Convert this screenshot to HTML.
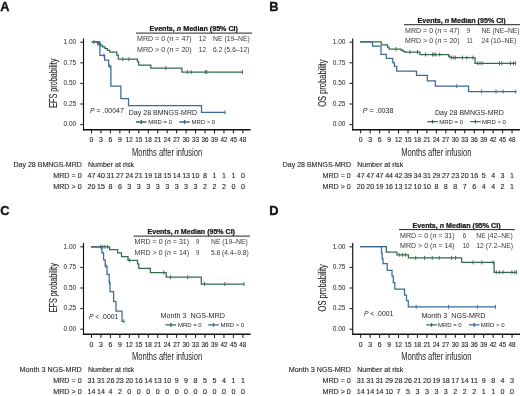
<!DOCTYPE html>
<html><head><meta charset="utf-8"><title>Kaplan-Meier curves</title>
<style>
html,body{margin:0;padding:0;background:#fff;}
body{width:520px;height:396px;overflow:hidden;font-family:"Liberation Sans", sans-serif;}
svg{display:block;will-change:transform;}
</style></head><body>
<svg width="520" height="396" viewBox="0 0 520 396" font-family='"Liberation Sans", sans-serif' fill="#262626">
<style>.s{stroke:#262626;stroke-width:0.15px;paint-order:stroke}.t{stroke:#262626;stroke-width:0.3px;paint-order:stroke}.u{stroke:#262626;stroke-width:0.12px;paint-order:stroke}.h{stroke:#111;stroke-width:0.2px;paint-order:stroke}</style>
<text x="0.2" y="10.5" font-size="12.8" font-weight="bold" fill="#111" stroke="#111" stroke-width="0.35">A</text>
<path d="M83.5 38.4V130.4" fill="none" stroke="#111" stroke-width="1.15"/>
<path d="M82.95 129.7H250.6" fill="none" stroke="#111" stroke-width="1.45"/>
<path d="M80.3 42.2H83.5M80.3 62.8H83.5M80.3 83.4H83.5M80.3 104H83.5M80.3 124.6H83.5M91.5 129.5V133.3M100.96 129.5V133.3M110.42 129.5V133.3M119.88 129.5V133.3M129.34 129.5V133.3M138.8 129.5V133.3M148.26 129.5V133.3M157.72 129.5V133.3M167.18 129.5V133.3M176.64 129.5V133.3M186.1 129.5V133.3M195.56 129.5V133.3M205.02 129.5V133.3M214.48 129.5V133.3M223.94 129.5V133.3M233.4 129.5V133.3M242.86 129.5V133.3" stroke="#111" stroke-width="1"/>
<text x="76.2" y="44" font-size="7.4" text-anchor="end" textLength="12.7" lengthAdjust="spacingAndGlyphs">1.00</text>
<text x="76.2" y="64.6" font-size="7.4" text-anchor="end" textLength="12.7" lengthAdjust="spacingAndGlyphs">0.75</text>
<text x="76.2" y="85.2" font-size="7.4" text-anchor="end" textLength="12.7" lengthAdjust="spacingAndGlyphs">0.50</text>
<text x="76.2" y="105.8" font-size="7.4" text-anchor="end" textLength="12.7" lengthAdjust="spacingAndGlyphs">0.25</text>
<text x="76.2" y="126.4" font-size="7.4" text-anchor="end" textLength="12.7" lengthAdjust="spacingAndGlyphs">0.00</text>
<text x="91.5" y="142.2" font-size="7.8" text-anchor="middle" textLength="3.8" lengthAdjust="spacingAndGlyphs" class="s">0</text>
<text x="100.96" y="142.2" font-size="7.8" text-anchor="middle" textLength="3.8" lengthAdjust="spacingAndGlyphs" class="s">3</text>
<text x="110.42" y="142.2" font-size="7.8" text-anchor="middle" textLength="3.8" lengthAdjust="spacingAndGlyphs" class="s">6</text>
<text x="119.88" y="142.2" font-size="7.8" text-anchor="middle" textLength="3.8" lengthAdjust="spacingAndGlyphs" class="s">9</text>
<text x="129.34" y="142.2" font-size="7.8" text-anchor="middle" textLength="7" lengthAdjust="spacingAndGlyphs" class="s">12</text>
<text x="138.8" y="142.2" font-size="7.8" text-anchor="middle" textLength="7" lengthAdjust="spacingAndGlyphs" class="s">15</text>
<text x="148.26" y="142.2" font-size="7.8" text-anchor="middle" textLength="7" lengthAdjust="spacingAndGlyphs" class="s">18</text>
<text x="157.72" y="142.2" font-size="7.8" text-anchor="middle" textLength="7" lengthAdjust="spacingAndGlyphs" class="s">21</text>
<text x="167.18" y="142.2" font-size="7.8" text-anchor="middle" textLength="7" lengthAdjust="spacingAndGlyphs" class="s">24</text>
<text x="176.64" y="142.2" font-size="7.8" text-anchor="middle" textLength="7" lengthAdjust="spacingAndGlyphs" class="s">27</text>
<text x="186.1" y="142.2" font-size="7.8" text-anchor="middle" textLength="7" lengthAdjust="spacingAndGlyphs" class="s">30</text>
<text x="195.56" y="142.2" font-size="7.8" text-anchor="middle" textLength="7" lengthAdjust="spacingAndGlyphs" class="s">33</text>
<text x="205.02" y="142.2" font-size="7.8" text-anchor="middle" textLength="7" lengthAdjust="spacingAndGlyphs" class="s">36</text>
<text x="214.48" y="142.2" font-size="7.8" text-anchor="middle" textLength="7" lengthAdjust="spacingAndGlyphs" class="s">39</text>
<text x="223.94" y="142.2" font-size="7.8" text-anchor="middle" textLength="7" lengthAdjust="spacingAndGlyphs" class="s">42</text>
<text x="233.4" y="142.2" font-size="7.8" text-anchor="middle" textLength="7" lengthAdjust="spacingAndGlyphs" class="s">45</text>
<text x="242.86" y="142.2" font-size="7.8" text-anchor="middle" textLength="7" lengthAdjust="spacingAndGlyphs" class="s">48</text>
<text x="132" y="155.8" font-size="10.4" textLength="70.2" lengthAdjust="spacingAndGlyphs">Months after infusion</text>
<text class="u" x="57.3" y="83.2" font-size="10" text-anchor="middle" textLength="49.1" lengthAdjust="spacingAndGlyphs" transform="rotate(-90 57.3 83.2)">EFS probability</text>
<path d="M91.6 41.9H97.5V43.4H100V45.1H102.5V46.8H105V48.5H107.5V50.3H109.8V52.1H116.8V55.2H118.3V59.2H137.5V61.5H138.6V65H150.8V68.1H181.9V72H242.7" fill="none" stroke="#336c4b" stroke-width="1.25" stroke-linejoin="miter"/>
<path d="M94 39.9V43.9M97.6 41.4V45.4M98.8 41.4V45.4M100.5 43.1V47.1M122.8 57.2V61.2M128.9 57.2V61.2M165.8 66.1V70.1M187.4 70V74M191.2 70V74M205.6 70V74M206.8 70V74M242.5 70V74" stroke="#336c4b" stroke-width="0.9"/>
<path d="M91.6 41.9H99.9V55.4H104.6V60.2H108.6V66.2H110.9V86H120.9V98.5H128.5V105.6H201.5V112.4H225.5" fill="none" stroke="#3b6a95" stroke-width="1.25" stroke-linejoin="miter"/>
<path d="M104 53.4V57.4M109.8 64.2V68.2M225 110.4V114.4" stroke="#3b6a95" stroke-width="0.9"/>
<text class="h" x="149.4" y="31" font-size="6.3" font-weight="bold" fill="#111" textLength="88.6" lengthAdjust="spacingAndGlyphs">Events, <tspan font-style="italic">n</tspan> Median (95% CI)</text>
<path d="M136 33.1H252" stroke="#222" stroke-width="1"/>
<text x="137" y="41.2" font-size="6.9" textLength="54.6" lengthAdjust="spacingAndGlyphs" fill="#383838">MRD = 0 (<tspan font-style="italic">n</tspan> = 47)</text>
<text x="198.8" y="41.2" font-size="6.9" textLength="7.2" lengthAdjust="spacingAndGlyphs" fill="#383838">12</text>
<text x="213.1" y="41.2" font-size="6.9" textLength="36.6" lengthAdjust="spacingAndGlyphs" fill="#383838">NE (19–NE)</text>
<text x="137" y="51.65" font-size="6.9" textLength="54.6" lengthAdjust="spacingAndGlyphs" fill="#383838">MRD &gt; 0 (<tspan font-style="italic">n</tspan> = 20)</text>
<text x="198.8" y="51.65" font-size="6.9" textLength="7.2" lengthAdjust="spacingAndGlyphs" fill="#383838">12</text>
<text x="213.1" y="51.65" font-size="6.9" textLength="36.3" lengthAdjust="spacingAndGlyphs" fill="#383838">6.2 (5.6–12)</text>
<text x="90" y="113.4" font-size="7" textLength="33.8" lengthAdjust="spacingAndGlyphs"><tspan font-style="italic">P</tspan> = .00047</text>
<text x="128.8" y="114.7" font-size="7.4" textLength="68.3" lengthAdjust="spacingAndGlyphs">Day 28 BMNGS-MRD</text>
<path d="M136 122H146.5M141.25 120.1V123.9" stroke="#336c4b" stroke-width="1.35"/>
<path d="M179.3 122H189.8M184.55 120.1V123.9" stroke="#3b6a95" stroke-width="1.35"/>
<text x="148.2" y="124.2" font-size="6.1" textLength="23.8" lengthAdjust="spacingAndGlyphs">MRD = 0</text>
<text x="191.4" y="124.2" font-size="6.1" textLength="23.8" lengthAdjust="spacingAndGlyphs">MRD &gt; 0</text>
<text x="81.8" y="167.3" font-size="7.3" text-anchor="end" textLength="68.3" lengthAdjust="spacingAndGlyphs" class="u">Day 28 BMNGS-MRD</text>
<text x="88" y="167.3" font-size="7.3" textLength="46" lengthAdjust="spacingAndGlyphs" class="u">Number at risk</text>
<text x="81.6" y="178.4" font-size="7.3" text-anchor="end" textLength="28.3" lengthAdjust="spacingAndGlyphs" class="u">MRD = 0</text>
<text x="81.6" y="189.1" font-size="7.3" text-anchor="end" textLength="28.3" lengthAdjust="spacingAndGlyphs" class="u">MRD &gt; 0</text>
<text x="91.5" y="178.4" font-size="7.1" text-anchor="middle" class="u">47</text>
<text x="91.5" y="189.1" font-size="7.1" text-anchor="middle" class="u">20</text>
<text x="100.96" y="178.4" font-size="7.1" text-anchor="middle" class="u">40</text>
<text x="100.96" y="189.1" font-size="7.1" text-anchor="middle" class="u">15</text>
<text x="110.42" y="178.4" font-size="7.1" text-anchor="middle" class="u">31</text>
<text x="110.42" y="189.1" font-size="7.1" text-anchor="middle" class="u">8</text>
<text x="119.88" y="178.4" font-size="7.1" text-anchor="middle" class="u">27</text>
<text x="119.88" y="189.1" font-size="7.1" text-anchor="middle" class="u">6</text>
<text x="129.34" y="178.4" font-size="7.1" text-anchor="middle" class="u">24</text>
<text x="129.34" y="189.1" font-size="7.1" text-anchor="middle" class="u">3</text>
<text x="138.8" y="178.4" font-size="7.1" text-anchor="middle" class="u">21</text>
<text x="138.8" y="189.1" font-size="7.1" text-anchor="middle" class="u">3</text>
<text x="148.26" y="178.4" font-size="7.1" text-anchor="middle" class="u">19</text>
<text x="148.26" y="189.1" font-size="7.1" text-anchor="middle" class="u">3</text>
<text x="157.72" y="178.4" font-size="7.1" text-anchor="middle" class="u">18</text>
<text x="157.72" y="189.1" font-size="7.1" text-anchor="middle" class="u">3</text>
<text x="167.18" y="178.4" font-size="7.1" text-anchor="middle" class="u">15</text>
<text x="167.18" y="189.1" font-size="7.1" text-anchor="middle" class="u">3</text>
<text x="176.64" y="178.4" font-size="7.1" text-anchor="middle" class="u">14</text>
<text x="176.64" y="189.1" font-size="7.1" text-anchor="middle" class="u">3</text>
<text x="186.1" y="178.4" font-size="7.1" text-anchor="middle" class="u">13</text>
<text x="186.1" y="189.1" font-size="7.1" text-anchor="middle" class="u">3</text>
<text x="195.56" y="178.4" font-size="7.1" text-anchor="middle" class="u">10</text>
<text x="195.56" y="189.1" font-size="7.1" text-anchor="middle" class="u">3</text>
<text x="205.02" y="178.4" font-size="7.1" text-anchor="middle" class="u">8</text>
<text x="205.02" y="189.1" font-size="7.1" text-anchor="middle" class="u">2</text>
<text x="214.48" y="178.4" font-size="7.1" text-anchor="middle" class="u">1</text>
<text x="214.48" y="189.1" font-size="7.1" text-anchor="middle" class="u">2</text>
<text x="223.94" y="178.4" font-size="7.1" text-anchor="middle" class="u">1</text>
<text x="223.94" y="189.1" font-size="7.1" text-anchor="middle" class="u">2</text>
<text x="233.4" y="178.4" font-size="7.1" text-anchor="middle" class="u">1</text>
<text x="233.4" y="189.1" font-size="7.1" text-anchor="middle" class="u">0</text>
<text x="242.86" y="178.4" font-size="7.1" text-anchor="middle" class="u">0</text>
<text x="242.86" y="189.1" font-size="7.1" text-anchor="middle" class="u">0</text>
<text x="269.2" y="10.6" font-size="12.8" font-weight="bold" fill="#111" stroke="#111" stroke-width="0.35">B</text>
<path d="M352.7 38.4V130.4" fill="none" stroke="#111" stroke-width="1.15"/>
<path d="M352.15 129.7H521" fill="none" stroke="#111" stroke-width="1.45"/>
<path d="M349.5 42.2H352.7M349.5 62.8H352.7M349.5 83.4H352.7M349.5 104H352.7M349.5 124.6H352.7M360.7 129.5V133.3M370.16 129.5V133.3M379.62 129.5V133.3M389.08 129.5V133.3M398.54 129.5V133.3M408 129.5V133.3M417.46 129.5V133.3M426.92 129.5V133.3M436.38 129.5V133.3M445.84 129.5V133.3M455.3 129.5V133.3M464.76 129.5V133.3M474.22 129.5V133.3M483.68 129.5V133.3M493.14 129.5V133.3M502.6 129.5V133.3M512.06 129.5V133.3" stroke="#111" stroke-width="1"/>
<text x="345.4" y="44" font-size="7.4" text-anchor="end" textLength="12.7" lengthAdjust="spacingAndGlyphs">1.00</text>
<text x="345.4" y="64.6" font-size="7.4" text-anchor="end" textLength="12.7" lengthAdjust="spacingAndGlyphs">0.75</text>
<text x="345.4" y="85.2" font-size="7.4" text-anchor="end" textLength="12.7" lengthAdjust="spacingAndGlyphs">0.50</text>
<text x="345.4" y="105.8" font-size="7.4" text-anchor="end" textLength="12.7" lengthAdjust="spacingAndGlyphs">0.25</text>
<text x="345.4" y="126.4" font-size="7.4" text-anchor="end" textLength="12.7" lengthAdjust="spacingAndGlyphs">0.00</text>
<text x="360.7" y="142.2" font-size="7.8" text-anchor="middle" textLength="3.8" lengthAdjust="spacingAndGlyphs" class="s">0</text>
<text x="370.16" y="142.2" font-size="7.8" text-anchor="middle" textLength="3.8" lengthAdjust="spacingAndGlyphs" class="s">3</text>
<text x="379.62" y="142.2" font-size="7.8" text-anchor="middle" textLength="3.8" lengthAdjust="spacingAndGlyphs" class="s">6</text>
<text x="389.08" y="142.2" font-size="7.8" text-anchor="middle" textLength="3.8" lengthAdjust="spacingAndGlyphs" class="s">9</text>
<text x="398.54" y="142.2" font-size="7.8" text-anchor="middle" textLength="7" lengthAdjust="spacingAndGlyphs" class="s">12</text>
<text x="408" y="142.2" font-size="7.8" text-anchor="middle" textLength="7" lengthAdjust="spacingAndGlyphs" class="s">15</text>
<text x="417.46" y="142.2" font-size="7.8" text-anchor="middle" textLength="7" lengthAdjust="spacingAndGlyphs" class="s">18</text>
<text x="426.92" y="142.2" font-size="7.8" text-anchor="middle" textLength="7" lengthAdjust="spacingAndGlyphs" class="s">21</text>
<text x="436.38" y="142.2" font-size="7.8" text-anchor="middle" textLength="7" lengthAdjust="spacingAndGlyphs" class="s">24</text>
<text x="445.84" y="142.2" font-size="7.8" text-anchor="middle" textLength="7" lengthAdjust="spacingAndGlyphs" class="s">27</text>
<text x="455.3" y="142.2" font-size="7.8" text-anchor="middle" textLength="7" lengthAdjust="spacingAndGlyphs" class="s">30</text>
<text x="464.76" y="142.2" font-size="7.8" text-anchor="middle" textLength="7" lengthAdjust="spacingAndGlyphs" class="s">33</text>
<text x="474.22" y="142.2" font-size="7.8" text-anchor="middle" textLength="7" lengthAdjust="spacingAndGlyphs" class="s">36</text>
<text x="483.68" y="142.2" font-size="7.8" text-anchor="middle" textLength="7" lengthAdjust="spacingAndGlyphs" class="s">39</text>
<text x="493.14" y="142.2" font-size="7.8" text-anchor="middle" textLength="7" lengthAdjust="spacingAndGlyphs" class="s">42</text>
<text x="502.6" y="142.2" font-size="7.8" text-anchor="middle" textLength="7" lengthAdjust="spacingAndGlyphs" class="s">45</text>
<text x="512.06" y="142.2" font-size="7.8" text-anchor="middle" textLength="7" lengthAdjust="spacingAndGlyphs" class="s">48</text>
<text x="401.2" y="155.8" font-size="10.4" textLength="70.2" lengthAdjust="spacingAndGlyphs">Months after infusion</text>
<text class="u" x="326.5" y="83.2" font-size="10" text-anchor="middle" textLength="47.3" lengthAdjust="spacingAndGlyphs" transform="rotate(-90 326.5 83.2)">OS probability</text>
<path d="M360 41.9H381.3V44.9H387.5V47H389V49H401V50.2H403V51.3H405V52.1H420V54.5H448.8V56.3H450V57.6H475V63.3H515.8" fill="none" stroke="#336c4b" stroke-width="1.25" stroke-linejoin="miter"/>
<path d="M396.2 47V51M410 50.1V54.1M417.5 50.1V54.1M425.6 52.5V56.5M432.5 52.5V56.5M434 52.5V56.5M435.6 52.5V56.5M439.7 52.5V56.5M451.7 55.6V59.6M453.7 55.6V59.6M455.6 55.6V59.6M462.4 55.6V59.6M466.8 55.6V59.6M472.9 55.6V59.6M477.7 61.3V65.3M480 61.3V65.3M482.3 61.3V65.3M499.5 61.3V65.3M501.8 61.3V65.3M510.5 61.3V65.3M513.5 61.3V65.3M515.6 61.3V65.3" stroke="#336c4b" stroke-width="0.9"/>
<path d="M360 41.9H372.5V46H381V54.4H386.3V58.3H392.8V62.6H394.4V66.4H396.7V71H416.5V75.4H427.3V80.8H435.3V86.1H468.5V91.5H516.2" fill="none" stroke="#3b6a95" stroke-width="1.25" stroke-linejoin="miter"/>
<path d="M456.7 84.1V88.1M481.5 89.5V93.5M496 89.5V93.5M503.2 89.5V93.5M515.8 89.5V93.5" stroke="#3b6a95" stroke-width="0.9"/>
<text class="h" x="417.5" y="22.6" font-size="6.3" font-weight="bold" fill="#111" textLength="88.2" lengthAdjust="spacingAndGlyphs">Events, <tspan font-style="italic">n</tspan> Median (95% CI)</text>
<path d="M404 24.7H520" stroke="#222" stroke-width="1"/>
<text x="405" y="32.8" font-size="6.9" textLength="54.6" lengthAdjust="spacingAndGlyphs" fill="#383838">MRD = 0 (<tspan font-style="italic">n</tspan> = 47)</text>
<text x="466.8" y="32.8" font-size="6.9" textLength="3.5" lengthAdjust="spacingAndGlyphs" fill="#383838">9</text>
<text x="481.4" y="32.8" font-size="6.9" textLength="38.2" lengthAdjust="spacingAndGlyphs" fill="#383838">NE (NE–NE)</text>
<text x="405" y="43.25" font-size="6.9" textLength="54.6" lengthAdjust="spacingAndGlyphs" fill="#383838">MRD &gt; 0 (<tspan font-style="italic">n</tspan> = 20)</text>
<text x="466.8" y="43.25" font-size="6.9" textLength="6" lengthAdjust="spacingAndGlyphs" fill="#383838">11</text>
<text x="481.4" y="43.25" font-size="6.9" textLength="34.8" lengthAdjust="spacingAndGlyphs" fill="#383838">24 (10–NE)</text>
<text x="362.8" y="113.4" font-size="7" textLength="30.7" lengthAdjust="spacingAndGlyphs"><tspan font-style="italic">P</tspan> = .0038</text>
<text x="435" y="115.1" font-size="7.4" textLength="68.8" lengthAdjust="spacingAndGlyphs">Day 28 BMNGS-MRD</text>
<path d="M427.3 121.6H437.8M432.55 119.7V123.5" stroke="#336c4b" stroke-width="1.35"/>
<path d="M470.2 121.6H480.7M475.45 119.7V123.5" stroke="#3b6a95" stroke-width="1.35"/>
<text x="439.2" y="123.8" font-size="6.1" textLength="23.8" lengthAdjust="spacingAndGlyphs">MRD = 0</text>
<text x="482.1" y="123.8" font-size="6.1" textLength="23.8" lengthAdjust="spacingAndGlyphs">MRD &gt; 0</text>
<text x="351" y="167.3" font-size="7.3" text-anchor="end" textLength="68.3" lengthAdjust="spacingAndGlyphs" class="u">Day 28 BMNGS-MRD</text>
<text x="357.2" y="167.3" font-size="7.3" textLength="46" lengthAdjust="spacingAndGlyphs" class="u">Number at risk</text>
<text x="350.8" y="178.4" font-size="7.3" text-anchor="end" textLength="28.3" lengthAdjust="spacingAndGlyphs" class="u">MRD = 0</text>
<text x="350.8" y="189.1" font-size="7.3" text-anchor="end" textLength="28.3" lengthAdjust="spacingAndGlyphs" class="u">MRD &gt; 0</text>
<text x="360.7" y="178.4" font-size="7.1" text-anchor="middle" class="u">47</text>
<text x="360.7" y="189.1" font-size="7.1" text-anchor="middle" class="u">20</text>
<text x="370.16" y="178.4" font-size="7.1" text-anchor="middle" class="u">47</text>
<text x="370.16" y="189.1" font-size="7.1" text-anchor="middle" class="u">20</text>
<text x="379.62" y="178.4" font-size="7.1" text-anchor="middle" class="u">47</text>
<text x="379.62" y="189.1" font-size="7.1" text-anchor="middle" class="u">19</text>
<text x="389.08" y="178.4" font-size="7.1" text-anchor="middle" class="u">44</text>
<text x="389.08" y="189.1" font-size="7.1" text-anchor="middle" class="u">16</text>
<text x="398.54" y="178.4" font-size="7.1" text-anchor="middle" class="u">42</text>
<text x="398.54" y="189.1" font-size="7.1" text-anchor="middle" class="u">13</text>
<text x="408" y="178.4" font-size="7.1" text-anchor="middle" class="u">39</text>
<text x="408" y="189.1" font-size="7.1" text-anchor="middle" class="u">12</text>
<text x="417.46" y="178.4" font-size="7.1" text-anchor="middle" class="u">34</text>
<text x="417.46" y="189.1" font-size="7.1" text-anchor="middle" class="u">10</text>
<text x="426.92" y="178.4" font-size="7.1" text-anchor="middle" class="u">31</text>
<text x="426.92" y="189.1" font-size="7.1" text-anchor="middle" class="u">10</text>
<text x="436.38" y="178.4" font-size="7.1" text-anchor="middle" class="u">29</text>
<text x="436.38" y="189.1" font-size="7.1" text-anchor="middle" class="u">8</text>
<text x="445.84" y="178.4" font-size="7.1" text-anchor="middle" class="u">27</text>
<text x="445.84" y="189.1" font-size="7.1" text-anchor="middle" class="u">8</text>
<text x="455.3" y="178.4" font-size="7.1" text-anchor="middle" class="u">23</text>
<text x="455.3" y="189.1" font-size="7.1" text-anchor="middle" class="u">8</text>
<text x="464.76" y="178.4" font-size="7.1" text-anchor="middle" class="u">20</text>
<text x="464.76" y="189.1" font-size="7.1" text-anchor="middle" class="u">7</text>
<text x="474.22" y="178.4" font-size="7.1" text-anchor="middle" class="u">16</text>
<text x="474.22" y="189.1" font-size="7.1" text-anchor="middle" class="u">6</text>
<text x="483.68" y="178.4" font-size="7.1" text-anchor="middle" class="u">5</text>
<text x="483.68" y="189.1" font-size="7.1" text-anchor="middle" class="u">4</text>
<text x="493.14" y="178.4" font-size="7.1" text-anchor="middle" class="u">4</text>
<text x="493.14" y="189.1" font-size="7.1" text-anchor="middle" class="u">4</text>
<text x="502.6" y="178.4" font-size="7.1" text-anchor="middle" class="u">3</text>
<text x="502.6" y="189.1" font-size="7.1" text-anchor="middle" class="u">2</text>
<text x="512.06" y="178.4" font-size="7.1" text-anchor="middle" class="u">1</text>
<text x="512.06" y="189.1" font-size="7.1" text-anchor="middle" class="u">1</text>
<text x="0.3" y="215.4" font-size="12.8" font-weight="bold" fill="#111" stroke="#111" stroke-width="0.35">C</text>
<path d="M83.5 243V335" fill="none" stroke="#111" stroke-width="1.15"/>
<path d="M82.95 334.3H250.6" fill="none" stroke="#111" stroke-width="1.45"/>
<path d="M80.3 246.8H83.5M80.3 267.4H83.5M80.3 288H83.5M80.3 308.6H83.5M80.3 329.2H83.5M91.5 334.1V337.9M100.96 334.1V337.9M110.42 334.1V337.9M119.88 334.1V337.9M129.34 334.1V337.9M138.8 334.1V337.9M148.26 334.1V337.9M157.72 334.1V337.9M167.18 334.1V337.9M176.64 334.1V337.9M186.1 334.1V337.9M195.56 334.1V337.9M205.02 334.1V337.9M214.48 334.1V337.9M223.94 334.1V337.9M233.4 334.1V337.9M242.86 334.1V337.9" stroke="#111" stroke-width="1"/>
<text x="76.2" y="248.6" font-size="7.4" text-anchor="end" textLength="12.7" lengthAdjust="spacingAndGlyphs">1.00</text>
<text x="76.2" y="269.2" font-size="7.4" text-anchor="end" textLength="12.7" lengthAdjust="spacingAndGlyphs">0.75</text>
<text x="76.2" y="289.8" font-size="7.4" text-anchor="end" textLength="12.7" lengthAdjust="spacingAndGlyphs">0.50</text>
<text x="76.2" y="310.4" font-size="7.4" text-anchor="end" textLength="12.7" lengthAdjust="spacingAndGlyphs">0.25</text>
<text x="76.2" y="331" font-size="7.4" text-anchor="end" textLength="12.7" lengthAdjust="spacingAndGlyphs">0.00</text>
<text x="91.5" y="346.8" font-size="7.8" text-anchor="middle" textLength="3.8" lengthAdjust="spacingAndGlyphs" class="s">0</text>
<text x="100.96" y="346.8" font-size="7.8" text-anchor="middle" textLength="3.8" lengthAdjust="spacingAndGlyphs" class="s">3</text>
<text x="110.42" y="346.8" font-size="7.8" text-anchor="middle" textLength="3.8" lengthAdjust="spacingAndGlyphs" class="s">6</text>
<text x="119.88" y="346.8" font-size="7.8" text-anchor="middle" textLength="3.8" lengthAdjust="spacingAndGlyphs" class="s">9</text>
<text x="129.34" y="346.8" font-size="7.8" text-anchor="middle" textLength="7" lengthAdjust="spacingAndGlyphs" class="s">12</text>
<text x="138.8" y="346.8" font-size="7.8" text-anchor="middle" textLength="7" lengthAdjust="spacingAndGlyphs" class="s">15</text>
<text x="148.26" y="346.8" font-size="7.8" text-anchor="middle" textLength="7" lengthAdjust="spacingAndGlyphs" class="s">18</text>
<text x="157.72" y="346.8" font-size="7.8" text-anchor="middle" textLength="7" lengthAdjust="spacingAndGlyphs" class="s">21</text>
<text x="167.18" y="346.8" font-size="7.8" text-anchor="middle" textLength="7" lengthAdjust="spacingAndGlyphs" class="s">24</text>
<text x="176.64" y="346.8" font-size="7.8" text-anchor="middle" textLength="7" lengthAdjust="spacingAndGlyphs" class="s">27</text>
<text x="186.1" y="346.8" font-size="7.8" text-anchor="middle" textLength="7" lengthAdjust="spacingAndGlyphs" class="s">30</text>
<text x="195.56" y="346.8" font-size="7.8" text-anchor="middle" textLength="7" lengthAdjust="spacingAndGlyphs" class="s">33</text>
<text x="205.02" y="346.8" font-size="7.8" text-anchor="middle" textLength="7" lengthAdjust="spacingAndGlyphs" class="s">36</text>
<text x="214.48" y="346.8" font-size="7.8" text-anchor="middle" textLength="7" lengthAdjust="spacingAndGlyphs" class="s">39</text>
<text x="223.94" y="346.8" font-size="7.8" text-anchor="middle" textLength="7" lengthAdjust="spacingAndGlyphs" class="s">42</text>
<text x="233.4" y="346.8" font-size="7.8" text-anchor="middle" textLength="7" lengthAdjust="spacingAndGlyphs" class="s">45</text>
<text x="242.86" y="346.8" font-size="7.8" text-anchor="middle" textLength="7" lengthAdjust="spacingAndGlyphs" class="s">48</text>
<text x="132" y="360.4" font-size="10.4" textLength="70.2" lengthAdjust="spacingAndGlyphs">Months after infusion</text>
<text class="u" x="57.3" y="287.8" font-size="10" text-anchor="middle" textLength="49.1" lengthAdjust="spacingAndGlyphs" transform="rotate(-90 57.3 287.8)">EFS probability</text>
<path d="M91 246.8H109.6V249.7H117.6V252.8H121.5V256.5H128V260.3H137.5V263.8H138.8V268.4H150.4V272.5H166.2V277.2H201.3V284H244.3" fill="none" stroke="#336c4b" stroke-width="1.25" stroke-linejoin="miter"/>
<path d="M100.7 244.8V248.8M102.7 244.8V248.8M104.8 244.8V248.8M107.6 244.8V248.8M129.4 258.3V262.3M163.8 270.5V274.5M170.6 275.2V279.2M187.7 275.2V279.2M204.5 282V286M224.8 282V286M244 282V286" stroke="#336c4b" stroke-width="0.9"/>
<path d="M91 246.8H101.9V252.8H103.6V259.8H105.2V266.1H107V274.3H109.2V282.5H110V291.5H113.6V301.3H116V311H122V321.3H124.2" fill="none" stroke="#3b6a95" stroke-width="1.25" stroke-linejoin="miter"/>
<path d="M106 264.1V268.1M109.6 280.5V284.5M124 319.3V323.3" stroke="#3b6a95" stroke-width="0.9"/>
<text class="h" x="147.5" y="234" font-size="6.3" font-weight="bold" fill="#111" textLength="87.5" lengthAdjust="spacingAndGlyphs">Events, <tspan font-style="italic">n</tspan> Median (95% CI)</text>
<path d="M133.5 236.1H250" stroke="#222" stroke-width="1"/>
<text x="134.5" y="244.2" font-size="6.9" textLength="54.6" lengthAdjust="spacingAndGlyphs" fill="#383838">MRD = 0 (<tspan font-style="italic">n</tspan> = 31)</text>
<text x="196.1" y="244.2" font-size="6.9" textLength="3.4" lengthAdjust="spacingAndGlyphs" fill="#383838">9</text>
<text x="211" y="244.2" font-size="6.9" textLength="36.7" lengthAdjust="spacingAndGlyphs" fill="#383838">NE (19–NE)</text>
<text x="134.5" y="254.65" font-size="6.9" textLength="54.6" lengthAdjust="spacingAndGlyphs" fill="#383838">MRD &gt; 0 (<tspan font-style="italic">n</tspan> = 14)</text>
<text x="196.1" y="254.65" font-size="6.9" textLength="3.4" lengthAdjust="spacingAndGlyphs" fill="#383838">9</text>
<text x="211" y="254.65" font-size="6.9" textLength="37.7" lengthAdjust="spacingAndGlyphs" fill="#383838">5.8 (4.4–9.8)</text>
<text x="88.9" y="318.7" font-size="7" textLength="29.4" lengthAdjust="spacingAndGlyphs"><tspan font-style="italic">P</tspan> &lt; .0001</text>
<text x="160.5" y="317.8" font-size="7.4" textLength="64.5" lengthAdjust="spacingAndGlyphs" xml:space="preserve">Month 3  NGS-MRD</text>
<path d="M165.6 324.8H176.1M170.85 322.9V326.7" stroke="#336c4b" stroke-width="1.35"/>
<path d="M208.2 324.8H218.7M213.45 322.9V326.7" stroke="#3b6a95" stroke-width="1.35"/>
<text x="177.9" y="327" font-size="6.1" textLength="23.8" lengthAdjust="spacingAndGlyphs">MRD = 0</text>
<text x="220.4" y="327" font-size="6.1" textLength="23.8" lengthAdjust="spacingAndGlyphs">MRD &gt; 0</text>
<text x="81.8" y="371.9" font-size="7.3" text-anchor="end" textLength="62.2" lengthAdjust="spacingAndGlyphs" class="u">Month 3 NGS-MRD</text>
<text x="88" y="371.9" font-size="7.3" textLength="46" lengthAdjust="spacingAndGlyphs" class="u">Number at risk</text>
<text x="81.6" y="383" font-size="7.3" text-anchor="end" textLength="28.3" lengthAdjust="spacingAndGlyphs" class="u">MRD = 0</text>
<text x="81.6" y="393.7" font-size="7.3" text-anchor="end" textLength="28.3" lengthAdjust="spacingAndGlyphs" class="u">MRD &gt; 0</text>
<text x="91.5" y="383" font-size="7.1" text-anchor="middle" class="u">31</text>
<text x="91.5" y="393.7" font-size="7.1" text-anchor="middle" class="u">14</text>
<text x="100.96" y="383" font-size="7.1" text-anchor="middle" class="u">31</text>
<text x="100.96" y="393.7" font-size="7.1" text-anchor="middle" class="u">14</text>
<text x="110.42" y="383" font-size="7.1" text-anchor="middle" class="u">26</text>
<text x="110.42" y="393.7" font-size="7.1" text-anchor="middle" class="u">4</text>
<text x="119.88" y="383" font-size="7.1" text-anchor="middle" class="u">23</text>
<text x="119.88" y="393.7" font-size="7.1" text-anchor="middle" class="u">2</text>
<text x="129.34" y="383" font-size="7.1" text-anchor="middle" class="u">20</text>
<text x="129.34" y="393.7" font-size="7.1" text-anchor="middle" class="u">0</text>
<text x="138.8" y="383" font-size="7.1" text-anchor="middle" class="u">16</text>
<text x="138.8" y="393.7" font-size="7.1" text-anchor="middle" class="u">0</text>
<text x="148.26" y="383" font-size="7.1" text-anchor="middle" class="u">14</text>
<text x="148.26" y="393.7" font-size="7.1" text-anchor="middle" class="u">0</text>
<text x="157.72" y="383" font-size="7.1" text-anchor="middle" class="u">13</text>
<text x="157.72" y="393.7" font-size="7.1" text-anchor="middle" class="u">0</text>
<text x="167.18" y="383" font-size="7.1" text-anchor="middle" class="u">10</text>
<text x="167.18" y="393.7" font-size="7.1" text-anchor="middle" class="u">0</text>
<text x="176.64" y="383" font-size="7.1" text-anchor="middle" class="u">9</text>
<text x="176.64" y="393.7" font-size="7.1" text-anchor="middle" class="u">0</text>
<text x="186.1" y="383" font-size="7.1" text-anchor="middle" class="u">9</text>
<text x="186.1" y="393.7" font-size="7.1" text-anchor="middle" class="u">0</text>
<text x="195.56" y="383" font-size="7.1" text-anchor="middle" class="u">8</text>
<text x="195.56" y="393.7" font-size="7.1" text-anchor="middle" class="u">0</text>
<text x="205.02" y="383" font-size="7.1" text-anchor="middle" class="u">5</text>
<text x="205.02" y="393.7" font-size="7.1" text-anchor="middle" class="u">0</text>
<text x="214.48" y="383" font-size="7.1" text-anchor="middle" class="u">5</text>
<text x="214.48" y="393.7" font-size="7.1" text-anchor="middle" class="u">0</text>
<text x="223.94" y="383" font-size="7.1" text-anchor="middle" class="u">4</text>
<text x="223.94" y="393.7" font-size="7.1" text-anchor="middle" class="u">0</text>
<text x="233.4" y="383" font-size="7.1" text-anchor="middle" class="u">1</text>
<text x="233.4" y="393.7" font-size="7.1" text-anchor="middle" class="u">0</text>
<text x="242.86" y="383" font-size="7.1" text-anchor="middle" class="u">1</text>
<text x="242.86" y="393.7" font-size="7.1" text-anchor="middle" class="u">0</text>
<text x="269.2" y="215.3" font-size="12.8" font-weight="bold" fill="#111" stroke="#111" stroke-width="0.35">D</text>
<path d="M352.7 243V335" fill="none" stroke="#111" stroke-width="1.15"/>
<path d="M352.15 334.3H521" fill="none" stroke="#111" stroke-width="1.45"/>
<path d="M349.5 246.8H352.7M349.5 267.4H352.7M349.5 288H352.7M349.5 308.6H352.7M349.5 329.2H352.7M360.7 334.1V337.9M370.16 334.1V337.9M379.62 334.1V337.9M389.08 334.1V337.9M398.54 334.1V337.9M408 334.1V337.9M417.46 334.1V337.9M426.92 334.1V337.9M436.38 334.1V337.9M445.84 334.1V337.9M455.3 334.1V337.9M464.76 334.1V337.9M474.22 334.1V337.9M483.68 334.1V337.9M493.14 334.1V337.9M502.6 334.1V337.9M512.06 334.1V337.9" stroke="#111" stroke-width="1"/>
<text x="345.4" y="248.6" font-size="7.4" text-anchor="end" textLength="12.7" lengthAdjust="spacingAndGlyphs">1.00</text>
<text x="345.4" y="269.2" font-size="7.4" text-anchor="end" textLength="12.7" lengthAdjust="spacingAndGlyphs">0.75</text>
<text x="345.4" y="289.8" font-size="7.4" text-anchor="end" textLength="12.7" lengthAdjust="spacingAndGlyphs">0.50</text>
<text x="345.4" y="310.4" font-size="7.4" text-anchor="end" textLength="12.7" lengthAdjust="spacingAndGlyphs">0.25</text>
<text x="345.4" y="331" font-size="7.4" text-anchor="end" textLength="12.7" lengthAdjust="spacingAndGlyphs">0.00</text>
<text x="360.7" y="346.8" font-size="7.8" text-anchor="middle" textLength="3.8" lengthAdjust="spacingAndGlyphs" class="s">0</text>
<text x="370.16" y="346.8" font-size="7.8" text-anchor="middle" textLength="3.8" lengthAdjust="spacingAndGlyphs" class="s">3</text>
<text x="379.62" y="346.8" font-size="7.8" text-anchor="middle" textLength="3.8" lengthAdjust="spacingAndGlyphs" class="s">6</text>
<text x="389.08" y="346.8" font-size="7.8" text-anchor="middle" textLength="3.8" lengthAdjust="spacingAndGlyphs" class="s">9</text>
<text x="398.54" y="346.8" font-size="7.8" text-anchor="middle" textLength="7" lengthAdjust="spacingAndGlyphs" class="s">12</text>
<text x="408" y="346.8" font-size="7.8" text-anchor="middle" textLength="7" lengthAdjust="spacingAndGlyphs" class="s">15</text>
<text x="417.46" y="346.8" font-size="7.8" text-anchor="middle" textLength="7" lengthAdjust="spacingAndGlyphs" class="s">18</text>
<text x="426.92" y="346.8" font-size="7.8" text-anchor="middle" textLength="7" lengthAdjust="spacingAndGlyphs" class="s">21</text>
<text x="436.38" y="346.8" font-size="7.8" text-anchor="middle" textLength="7" lengthAdjust="spacingAndGlyphs" class="s">24</text>
<text x="445.84" y="346.8" font-size="7.8" text-anchor="middle" textLength="7" lengthAdjust="spacingAndGlyphs" class="s">27</text>
<text x="455.3" y="346.8" font-size="7.8" text-anchor="middle" textLength="7" lengthAdjust="spacingAndGlyphs" class="s">30</text>
<text x="464.76" y="346.8" font-size="7.8" text-anchor="middle" textLength="7" lengthAdjust="spacingAndGlyphs" class="s">33</text>
<text x="474.22" y="346.8" font-size="7.8" text-anchor="middle" textLength="7" lengthAdjust="spacingAndGlyphs" class="s">36</text>
<text x="483.68" y="346.8" font-size="7.8" text-anchor="middle" textLength="7" lengthAdjust="spacingAndGlyphs" class="s">39</text>
<text x="493.14" y="346.8" font-size="7.8" text-anchor="middle" textLength="7" lengthAdjust="spacingAndGlyphs" class="s">42</text>
<text x="502.6" y="346.8" font-size="7.8" text-anchor="middle" textLength="7" lengthAdjust="spacingAndGlyphs" class="s">45</text>
<text x="512.06" y="346.8" font-size="7.8" text-anchor="middle" textLength="7" lengthAdjust="spacingAndGlyphs" class="s">48</text>
<text x="401.2" y="360.4" font-size="10.4" textLength="70.2" lengthAdjust="spacingAndGlyphs">Months after infusion</text>
<text class="u" x="326.5" y="287.8" font-size="10" text-anchor="middle" textLength="47.3" lengthAdjust="spacingAndGlyphs" transform="rotate(-90 326.5 287.8)">OS probability</text>
<path d="M360 246.6H386.3V252.2H396.9V254.8H408.4V257.9H461.7V262.4H494.1V272.3H516.9" fill="none" stroke="#336c4b" stroke-width="1.25" stroke-linejoin="miter"/>
<path d="M399.2 252.8V256.8M402.3 252.8V256.8M405.4 252.8V256.8M415.7 255.9V259.9M424.6 255.9V259.9M432.3 255.9V259.9M439.2 255.9V259.9M451.5 255.9V259.9M455.6 255.9V259.9M473.1 260.4V264.4M481.9 260.4V264.4M493.1 260.4V264.4M496.3 270.3V274.3M499.4 270.3V274.3M503.1 270.3V274.3M511.9 270.3V274.3M514.8 270.3V274.3M516.6 270.3V274.3" stroke="#336c4b" stroke-width="0.9"/>
<path d="M360 246.6H381.5V253H382.2V258.5H383V263.5H387.2V270.3H392V276H393.3V282.5H394.8V289H404.5V295H406.5V300.5H408.3V306.9H495.8" fill="none" stroke="#3b6a95" stroke-width="1.25" stroke-linejoin="miter"/>
<path d="M416.2 304.9V308.9M448.5 304.9V308.9M477.4 304.9V308.9M495.5 304.9V308.9" stroke="#3b6a95" stroke-width="0.9"/>
<text class="h" x="412.5" y="227.5" font-size="6.3" font-weight="bold" fill="#111" textLength="88.1" lengthAdjust="spacingAndGlyphs">Events, <tspan font-style="italic">n</tspan> Median (95% CI)</text>
<path d="M399 229.6H514.8" stroke="#222" stroke-width="1"/>
<text x="400" y="237.7" font-size="6.9" textLength="54.6" lengthAdjust="spacingAndGlyphs" fill="#383838">MRD = 0 (<tspan font-style="italic">n</tspan> = 31)</text>
<text x="462.7" y="237.7" font-size="6.9" textLength="3.3" lengthAdjust="spacingAndGlyphs" fill="#383838">6</text>
<text x="476.3" y="237.7" font-size="6.9" textLength="36.5" lengthAdjust="spacingAndGlyphs" fill="#383838">NE (42–NE)</text>
<text x="400" y="248.15" font-size="6.9" textLength="54.6" lengthAdjust="spacingAndGlyphs" fill="#383838">MRD &gt; 0 (<tspan font-style="italic">n</tspan> = 14)</text>
<text x="462.7" y="248.15" font-size="6.9" textLength="6.7" lengthAdjust="spacingAndGlyphs" fill="#383838">10</text>
<text x="476.3" y="248.15" font-size="6.9" textLength="36.7" lengthAdjust="spacingAndGlyphs" fill="#383838">12 (7.2–NE)</text>
<text x="363.9" y="315.7" font-size="7" textLength="29.4" lengthAdjust="spacingAndGlyphs"><tspan font-style="italic">P</tspan> &lt; .0001</text>
<text x="421.4" y="317.5" font-size="7.4" textLength="64" lengthAdjust="spacingAndGlyphs" xml:space="preserve">Month 3  NGS-MRD</text>
<path d="M426.3 324.8H436.8M431.55 322.9V326.7" stroke="#336c4b" stroke-width="1.35"/>
<path d="M468.9 324.8H479.4M474.15 322.9V326.7" stroke="#3b6a95" stroke-width="1.35"/>
<text x="437.9" y="327" font-size="6.1" textLength="23.8" lengthAdjust="spacingAndGlyphs">MRD = 0</text>
<text x="480.8" y="327" font-size="6.1" textLength="23.8" lengthAdjust="spacingAndGlyphs">MRD &gt; 0</text>
<text x="351" y="371.9" font-size="7.3" text-anchor="end" textLength="62.2" lengthAdjust="spacingAndGlyphs" class="u">Month 3 NGS-MRD</text>
<text x="357.2" y="371.9" font-size="7.3" textLength="46" lengthAdjust="spacingAndGlyphs" class="u">Number at risk</text>
<text x="350.8" y="383" font-size="7.3" text-anchor="end" textLength="28.3" lengthAdjust="spacingAndGlyphs" class="u">MRD = 0</text>
<text x="350.8" y="393.7" font-size="7.3" text-anchor="end" textLength="28.3" lengthAdjust="spacingAndGlyphs" class="u">MRD &gt; 0</text>
<text x="360.7" y="383" font-size="7.1" text-anchor="middle" class="u">31</text>
<text x="360.7" y="393.7" font-size="7.1" text-anchor="middle" class="u">14</text>
<text x="370.16" y="383" font-size="7.1" text-anchor="middle" class="u">31</text>
<text x="370.16" y="393.7" font-size="7.1" text-anchor="middle" class="u">14</text>
<text x="379.62" y="383" font-size="7.1" text-anchor="middle" class="u">31</text>
<text x="379.62" y="393.7" font-size="7.1" text-anchor="middle" class="u">14</text>
<text x="389.08" y="383" font-size="7.1" text-anchor="middle" class="u">29</text>
<text x="389.08" y="393.7" font-size="7.1" text-anchor="middle" class="u">10</text>
<text x="398.54" y="383" font-size="7.1" text-anchor="middle" class="u">28</text>
<text x="398.54" y="393.7" font-size="7.1" text-anchor="middle" class="u">7</text>
<text x="408" y="383" font-size="7.1" text-anchor="middle" class="u">26</text>
<text x="408" y="393.7" font-size="7.1" text-anchor="middle" class="u">5</text>
<text x="417.46" y="383" font-size="7.1" text-anchor="middle" class="u">21</text>
<text x="417.46" y="393.7" font-size="7.1" text-anchor="middle" class="u">3</text>
<text x="426.92" y="383" font-size="7.1" text-anchor="middle" class="u">20</text>
<text x="426.92" y="393.7" font-size="7.1" text-anchor="middle" class="u">3</text>
<text x="436.38" y="383" font-size="7.1" text-anchor="middle" class="u">19</text>
<text x="436.38" y="393.7" font-size="7.1" text-anchor="middle" class="u">3</text>
<text x="445.84" y="383" font-size="7.1" text-anchor="middle" class="u">18</text>
<text x="445.84" y="393.7" font-size="7.1" text-anchor="middle" class="u">3</text>
<text x="455.3" y="383" font-size="7.1" text-anchor="middle" class="u">17</text>
<text x="455.3" y="393.7" font-size="7.1" text-anchor="middle" class="u">2</text>
<text x="464.76" y="383" font-size="7.1" text-anchor="middle" class="u">14</text>
<text x="464.76" y="393.7" font-size="7.1" text-anchor="middle" class="u">2</text>
<text x="474.22" y="383" font-size="7.1" text-anchor="middle" class="u">11</text>
<text x="474.22" y="393.7" font-size="7.1" text-anchor="middle" class="u">2</text>
<text x="483.68" y="383" font-size="7.1" text-anchor="middle" class="u">9</text>
<text x="483.68" y="393.7" font-size="7.1" text-anchor="middle" class="u">1</text>
<text x="493.14" y="383" font-size="7.1" text-anchor="middle" class="u">8</text>
<text x="493.14" y="393.7" font-size="7.1" text-anchor="middle" class="u">1</text>
<text x="502.6" y="383" font-size="7.1" text-anchor="middle" class="u">4</text>
<text x="502.6" y="393.7" font-size="7.1" text-anchor="middle" class="u">0</text>
<text x="512.06" y="383" font-size="7.1" text-anchor="middle" class="u">3</text>
<text x="512.06" y="393.7" font-size="7.1" text-anchor="middle" class="u">0</text>
</svg>
</body></html>
